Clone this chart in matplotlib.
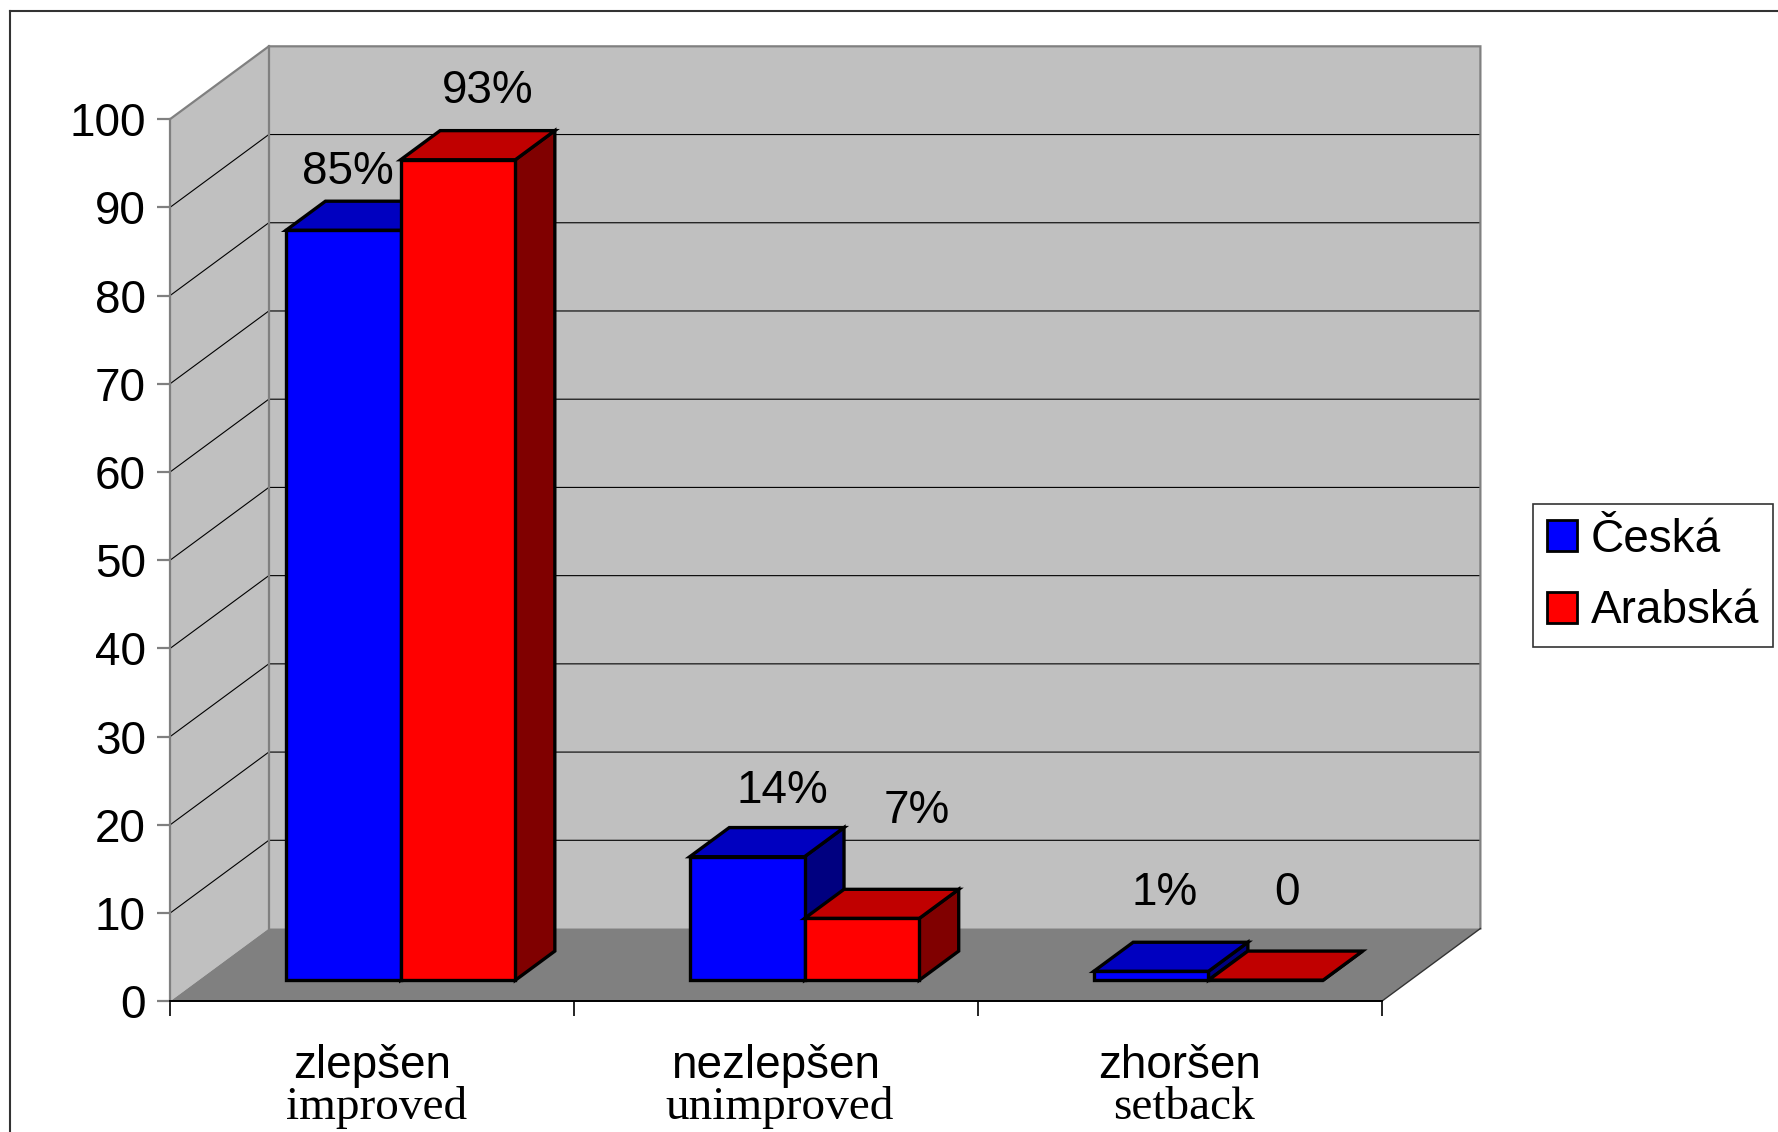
import matplotlib
matplotlib.use('Agg')
import matplotlib.pyplot as plt
from matplotlib.patches import Polygon, Patch
from matplotlib.lines import Line2D

plt.rcParams['font.family'] = ['Liberation Sans', 'DejaVu Sans']

# data
categories_cz = ['zlepšen', 'nezlepšen', 'zhoršen']
categories_en = ['improved', 'unimproved', 'setback']
series_names = ['Česká', 'Arabská']
ceska = [85, 14, 1]
arabska = [93, 7, 0]
yticks = [0, 10, 20, 30, 40, 50, 60, 70, 80, 90, 100]

# hand-placed data label offsets (category units, value units)
label_dx = [[0.011, 0.086, 0.034], [0.073, 0.137, 0.052]]
label_dy = [[7.7, 8.5, 9.9], [8.8, 13.2, 10.9]]

# styling / geometry
DX, DY = 0.2444, 8.25          # depth offset of back wall
D0, D1 = 0.29, 0.69            # bar depth range
BW = 0.284                     # bar width
face = {'front': ['#0000FF', '#FF0000'],
        'top': ['#0000C0', '#C00000'],
        'side': ['#000080', '#800000']}
FS = 33

fig = plt.figure(figsize=(17.78, 11.32), dpi=100)
ax = fig.add_axes([170.1 / 1778, 130.7 / 1132, 1211.6 / 1778, 882.2 / 1132])
ax.set_xlim(0, 3)
ax.set_ylim(0, 100)
ax.patch.set_visible(False)

ncat = len(categories_cz)


def P(x, y, d):
    return (x + d * DX, y + d * DY)


# walls
side_wall = [P(0, 0, 0), P(0, 100, 0), P(0, 100, 1), P(0, 0, 1)]
back_wall = [P(0, 0, 1), P(ncat, 0, 1), P(ncat, 100, 1), P(0, 100, 1)]
floor = [P(0, 0, 0), P(ncat, 0, 0), P(ncat, 0, 1), P(0, 0, 1)]
for pts, col in [(side_wall, '#C0C0C0'), (back_wall, '#C0C0C0'), (floor, '#808080')]:
    ax.add_patch(Polygon(pts, closed=True, facecolor=col, edgecolor='none',
                         clip_on=False, zorder=1))

# gridlines
for v in yticks[1:-1]:
    a, b = P(0, v, 0), P(0, v, 1)
    c = P(ncat, v, 1)
    ax.plot([a[0], b[0], c[0]], [a[1], b[1], c[1]], color='black', lw=0.8,
            clip_on=False, zorder=1.5)

# wall edges
gray = '#808080'
for pts in [[P(0, 100, 0), P(0, 100, 1), P(ncat, 100, 1), P(ncat, 0, 1)],
            [P(0, 0, 1), P(0, 100, 1)]]:
    ax.plot([p[0] for p in pts], [p[1] for p in pts], color=gray, lw=1.6,
            clip_on=False, zorder=1.6, solid_joinstyle='miter')
fr = [P(ncat, 0, 0), P(ncat, 0, 1)]
ax.plot([p[0] for p in fr], [p[1] for p in fr], color='#333333', lw=1,
        clip_on=False, zorder=1.6)

# bars
z = 3
for i in range(ncat):
    for s, vals in enumerate([ceska, arabska]):
        v = vals[i]
        x0 = i + 0.5 - BW + s * BW
        x1 = x0 + BW
        side = [P(x1, 0, D0), P(x1, 0, D1), P(x1, v, D1), P(x1, v, D0)]
        top = [P(x0, v, D0), P(x1, v, D0), P(x1, v, D1), P(x0, v, D1)]
        front = [P(x0, 0, D0), P(x1, 0, D0), P(x1, v, D0), P(x0, v, D0)]
        for pts, key in [(side, 'side'), (top, 'top'), (front, 'front')]:
            ax.add_patch(Polygon(pts, closed=True, facecolor=face[key][s],
                                 edgecolor='black', lw=2.4, joinstyle='miter',
                                 clip_on=False, zorder=z))
        z += 0.1
        lx = (x0 + x1) / 2 + D0 * DX + label_dx[s][i]
        ly = v + label_dy[s][i]
        txt = f'{v}%' if v else '0'
        ax.text(lx, ly, txt, ha='center', va='baseline', fontsize=FS, zorder=10)

# axes
for sp in ['top', 'right']:
    ax.spines[sp].set_visible(False)
ax.spines['left'].set_color(gray)
ax.spines['left'].set_linewidth(1.6)
ax.spines['bottom'].set_color('black')
ax.spines['bottom'].set_linewidth(1.4)
ax.set_yticks(yticks)
ax.set_yticklabels([str(t) for t in yticks])
ax.tick_params(axis='y', colors=gray, length=9.4, width=1.6, pad=8.0,
               labelsize=FS, labelcolor='black')
ax.set_xticks(range(ncat + 1))
ax.set_xticklabels([])
ax.tick_params(axis='x', colors='black', length=11, width=1.2)

for i in range(ncat):
    ax.text(i + 0.5, -8.7, categories_cz[i], ha='center', va='baseline',
            fontsize=FS, clip_on=False)
    ax.text(i + 0.51, -13.3, categories_en[i], ha='center', va='baseline',
            fontsize=FS + 1, family='Liberation Serif', clip_on=False)

# legend
handles = [Patch(facecolor=face['front'][s], edgecolor='black', lw=2)
           for s in range(2)]
leg = fig.legend(handles, series_names, loc='upper left',
                 bbox_to_anchor=(1533 / 1778, 1 - 504 / 1132),
                 fontsize=FS, frameon=True, fancybox=False,
                 handlelength=0.66, handleheight=0.66, handletextpad=0.3,
                 borderpad=0.3, labelspacing=0.6, borderaxespad=0)
leg.get_frame().set_edgecolor('black')
leg.get_frame().set_linewidth(1.2)

# outer border (top and left visible)
fig.add_artist(Line2D([10 / 1778, 1], [1 - 11 / 1132, 1 - 11 / 1132],
                      color='#333333', lw=1.5))
fig.add_artist(Line2D([10 / 1778, 10 / 1778], [0, 1 - 11 / 1132],
                      color='#333333', lw=1.5))

fig.savefig('out.png', dpi=100)
